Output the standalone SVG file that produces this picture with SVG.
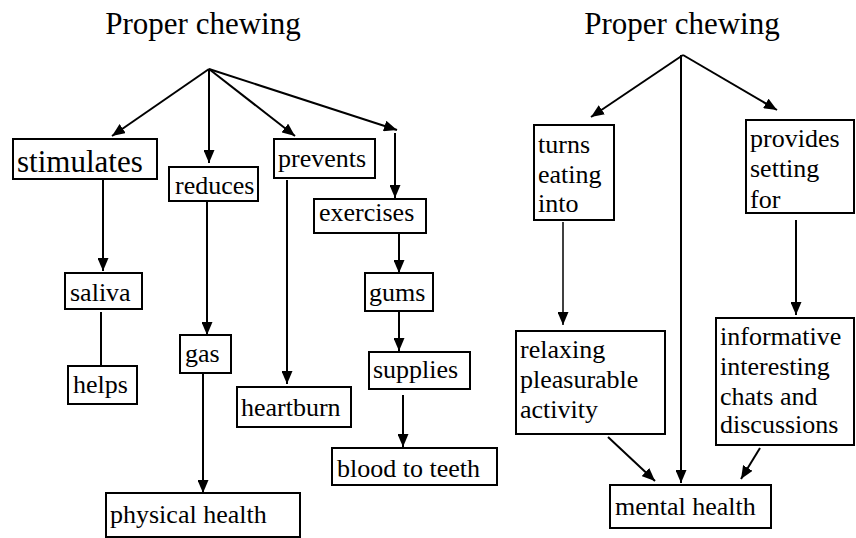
<svg xmlns="http://www.w3.org/2000/svg" width="856" height="538" viewBox="0 0 856 538">
<style>
.box{fill:#fff;stroke:#000;stroke-width:2}
text{font-family:'Liberation Serif','Times New Roman',Times,serif;font-size:26px;fill:#000}
text.big{font-size:31px}
.c{stroke:#000;stroke-width:2;fill:none}
.a{marker-end:url(#ah)}
</style>
<defs>
<marker id="ah" markerUnits="userSpaceOnUse" markerWidth="13" markerHeight="11" refX="13" refY="5.5" orient="auto">
<path d="M0,0 L13,5.5 L0,11 z" fill="#000"/>
</marker>
</defs>
<rect width="856" height="538" fill="#fff"/>
<g id="connectors">
<line class="c a" x1="209" y1="69" x2="112" y2="136"/>
<line class="c a" x1="209" y1="69" x2="209" y2="163"/>
<line class="c a" x1="209" y1="69" x2="295" y2="136"/>
<line class="c a" x1="209" y1="69" x2="397" y2="130"/>
<line class="c a" x1="395" y1="133" x2="395" y2="198"/>
<line class="c a" x1="103" y1="179" x2="103" y2="271"/>
<line class="c" x1="101" y1="312" x2="101" y2="366" stroke-width="1.5"/>
<line class="c a" x1="207" y1="201" x2="207" y2="335"/>
<line class="c a" x1="203" y1="373" x2="203" y2="493"/>
<line class="c a" x1="287" y1="180" x2="287" y2="384"/>
<line class="c a" x1="399" y1="233" x2="399" y2="273"/>
<line class="c a" x1="399" y1="311" x2="399" y2="351"/>
<line class="c a" x1="403" y1="395" x2="403" y2="447"/>
<line class="c a" x1="683" y1="55" x2="591" y2="117"/>
<line class="c a" x1="681" y1="55" x2="681" y2="483"/>
<line class="c a" x1="683" y1="55" x2="777" y2="110"/>
<line class="c a" x1="563" y1="222" x2="563" y2="325" style="stroke-width:1.5"/>
<line class="c a" x1="796" y1="220" x2="796" y2="315"/>
<line class="c a" x1="608" y1="437" x2="655" y2="481"/>
<line class="c a" x1="760" y1="448" x2="741" y2="479"/>
</g>
<g id="title-left"><text class="big" x="203" y="34" text-anchor="middle">Proper chewing</text></g>
<g id="title-right"><text class="big" x="682" y="34" text-anchor="middle">Proper chewing</text></g>
<g id="stimulates"><rect class="box" x="13" y="139" width="144" height="40"/><text class="big" x="17" y="172">stimulates</text></g>
<g id="reduces"><rect class="box" x="169" y="167" width="89" height="34"/><text x="175" y="194">reduces</text></g>
<g id="prevents"><rect class="box" x="274" y="139" width="101" height="39"/><text x="278" y="167">prevents</text></g>
<g id="exercises"><rect class="box" x="314" y="199" width="112" height="34"/><text x="319" y="221">exercises</text></g>
<g id="saliva"><rect class="box" x="65" y="273" width="77" height="36"/><text x="70" y="301">saliva</text></g>
<g id="helps"><rect class="box" x="68" y="366" width="69" height="38"/><text x="73" y="393">helps</text></g>
<g id="gas"><rect class="box" x="180" y="335" width="51" height="38"/><text x="185" y="362">gas</text></g>
<g id="heartburn"><rect class="box" x="237" y="387" width="114" height="40"/><text x="241" y="416">heartburn</text></g>
<g id="physical-health"><rect class="box" x="106" y="493" width="194" height="44"/><text x="110" y="523">physical health</text></g>
<g id="gums"><rect class="box" x="365" y="273" width="68" height="38"/><text x="369" y="301">gums</text></g>
<g id="supplies"><rect class="box" x="369" y="352" width="101" height="37"/><text x="373" y="378">supplies</text></g>
<g id="blood-to-teeth"><rect class="box" x="332" y="448" width="165" height="37"/><text x="337" y="477">blood to teeth</text></g>
<g id="turns"><rect class="box" x="534" y="125" width="80" height="95"/><text x="538" y="153">turns</text><text x="538" y="183">eating</text><text x="538" y="212">into</text></g>
<g id="provides"><rect class="box" x="746" y="120" width="108" height="93"/><text x="750" y="147">provides</text><text x="750" y="177">setting</text><text x="750" y="208">for</text></g>
<g id="relaxing"><rect class="box" x="516" y="331" width="149" height="103"/><text x="520" y="358">relaxing</text><text x="520" y="388">pleasurable</text><text x="520" y="418">activity</text></g>
<g id="informative"><rect class="box" x="716" y="318" width="138" height="127"/><text x="720" y="345">informative</text><text x="720" y="375">interesting</text><text x="720" y="405">chats and</text><text x="720" y="433">discussions</text></g>
<g id="mental-health"><rect class="box" x="610" y="485" width="161" height="43"/><text x="615" y="515">mental health</text></g>
</svg>
